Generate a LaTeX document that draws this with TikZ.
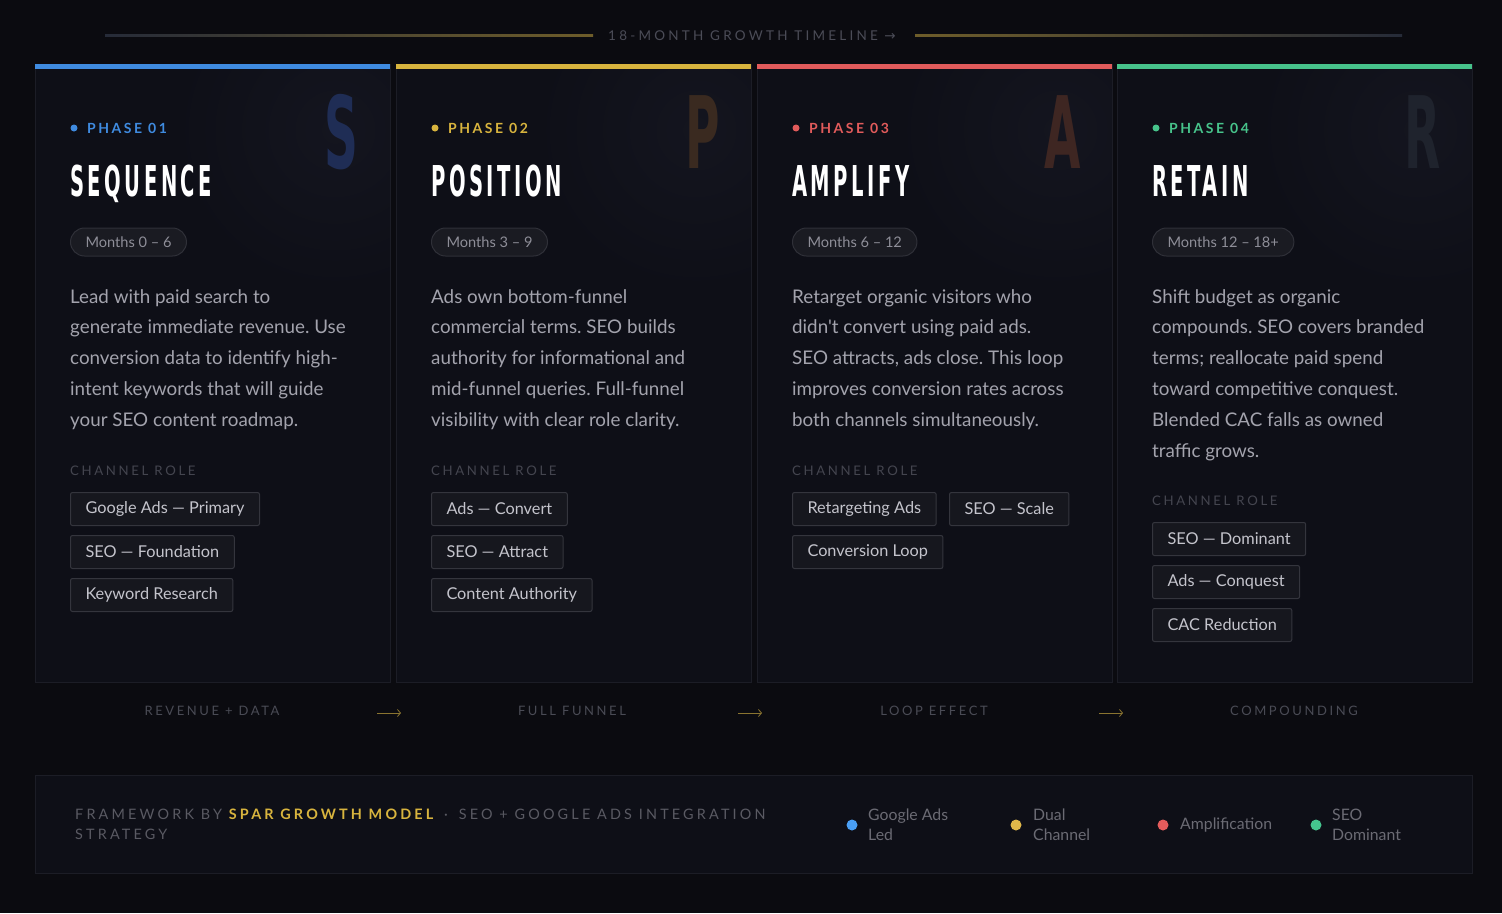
\documentclass[tikz,border=0pt]{standalone}
\usepackage{fontspec}
\usepackage{graphicx}
\usetikzlibrary{arrows.meta}
\setmainfont{Lato}
\newfontfamily\bodyfont{Lato}
\newfontfamily\trackfont[LetterSpace=20]{Lato}
\newfontfamily\foottrack[LetterSpace=22]{Lato}
\newfontfamily\widetrack[LetterSpace=24]{Lato}
\newfontfamily\phasefont[LetterSpace=18]{Lato}
\newfontfamily\titlefont[LetterSpace=18]{DejaVu Sans}
\newfontfamily\bigfont{DejaVu Sans}
\newfontfamily\symfont{DejaVu Sans}
\definecolor{pagebg}{HTML}{0B0B10}
\definecolor{cardbg}{HTML}{0E0F17}
\definecolor{cardline}{HTML}{1C1D26}
\definecolor{glow}{HTML}{14151F}
\definecolor{pillbg}{HTML}{1A1B22}
\definecolor{pillline}{HTML}{2F3038}
\definecolor{pilltext}{HTML}{8E8E98}
\definecolor{desctext}{HTML}{A3A3AD}
\definecolor{rolelabel}{HTML}{44454F}
\definecolor{tagbg}{HTML}{16171E}
\definecolor{tagline}{HTML}{34353D}
\definecolor{tagtext}{HTML}{C4C4CC}
\definecolor{bottomlabel}{HTML}{4A4B55}
\definecolor{foottext}{HTML}{5A5A63}
\definecolor{legtext}{HTML}{6B6B74}
\definecolor{pblue}{HTML}{3F8BE0}
\definecolor{pgold}{HTML}{D8B43E}
\definecolor{pred}{HTML}{E15B5B}
\definecolor{pgreen}{HTML}{47C38B}
\definecolor{lblue}{HTML}{4A9FF5}
\definecolor{lgold}{HTML}{E0B84A}
\definecolor{lred}{HTML}{E45C5C}
\definecolor{lgreen}{HTML}{45C48E}
\definecolor{bigS}{HTML}{1F2D55}
\definecolor{bigP}{HTML}{3A2A20}
\definecolor{bigA}{HTML}{3E2622}
\definecolor{bigR}{HTML}{1F232D}
\definecolor{tlgrey}{HTML}{262B38}
\definecolor{tlgold}{HTML}{6E5D2A}
\definecolor{arrowgold}{HTML}{8A7430}
\definecolor{timetext}{HTML}{4B4C57}
\begin{document}
\frenchspacing
\begin{tikzpicture}[x=1pt,y=-1pt,
  cardbox/.style={draw=cardline, fill=cardbg, line width=1pt},
  phasedot/.style={circle, inner sep=0, minimum size=7pt},
  phaselabel/.style={anchor=west, inner sep=0, font=\phasefont\bfseries\fontsize{14}{16}\selectfont},
  titlelabel/.style={anchor=base west, inner sep=0, text=white},
  bigletter/.style={anchor=base east, inner sep=0},
  pill/.style={draw=pillline, fill=pillbg, line width=1pt, rounded corners=14pt, minimum height=28pt, inner xsep=15pt, inner ysep=0, anchor=west, text=pilltext, font=\bodyfont\fontsize{14.6}{16}\selectfont},
  desc/.style={anchor=north west, align=left, inner sep=0, text=desctext, font=\bodyfont\fontsize{18.8}{30.8}\selectfont},
  rolelab/.style={anchor=west, inner sep=0, text=rolelabel, font=\trackfont\fontsize{13.2}{15}\selectfont},
  tagbox/.style={draw=tagline, fill=tagbg, line width=1pt, rounded corners=2pt, minimum height=33pt, inner xsep=15pt, inner ysep=0, anchor=north west, text=tagtext, font=\bodyfont\fontsize{16.3}{18}\selectfont},
  flowlab/.style={anchor=center, inner sep=0, text=bottomlabel, font=\trackfont\fontsize{13}{15}\selectfont},
  flowarrow/.style={draw=arrowgold, line width=0.8pt, -{Straight Barb[length=3pt,width=7pt]}},
  legdot/.style={circle, inner sep=0, minimum size=11pt},
  legtxt/.style={anchor=west, align=left, inner sep=0, text=legtext, font=\bodyfont\fontsize{15.8}{20}\selectfont}
]
\useasboundingbox (0,0) rectangle (1502,913);
\fill[pagebg] (0,0) rectangle (1502,913);

% timeline header
\shade[left color=tlgrey, right color=tlgold] (105,34) rectangle (593,36);
\shade[left color=tlgold, right color=tlgrey] (915,34) rectangle (1402,36);
\node[inner sep=0, text=timetext, font=\widetrack\fontsize{13.5}{15}\selectfont] (timeline) at (752,36) {18-MONTH GROWTH TIMELINE {\symfont →}};

% ---------- cards ----------
\foreach \x/\c in {35/pblue,396/pgold,757/pred,1117/pgreen}{
  \fill[cardbg] (\x,64) rectangle (\x+355,682);
  \begin{scope}
    \clip (\x,64) rectangle (\x+355,682);
    \shade[inner color=glow, outer color=cardbg] (\x+300,130) circle (160);
  \end{scope}
  \draw[cardline, line width=1pt] (\x,64) rectangle (\x+355,682);
  \fill[\c] (\x,64) rectangle (\x+355,68.5);
}

% Card 1
\node[bigletter, text=bigS] (big1) at (359,168) {\scalebox{0.47}[1]{\bigfont\bfseries\fontsize{100}{100}\selectfont S}};
\node[phasedot, fill=pblue] (dot1) at (74,128) {};
\node[phaselabel, text=pblue] (ph1) at (87,128) {PHASE 01};
\node[titlelabel] (title1) at (70,196) {\scalebox{0.46}[1]{\titlefont\bfseries\fontsize{42.5}{44}\selectfont SEQUENCE}};
\node[pill] (pill1) at (70,242) {Months 0 – 6};
\node[desc] (desc1) at (70,289) {Lead with paid search to\\generate immediate revenue. Use\\conversion data to identify high-\\intent keywords that will guide\\your SEO content roadmap.};
\node[rolelab] (role1) at (70,471) {CHANNEL ROLE};
\node[tagbox] (t11) at (70,492) {Google Ads — Primary};
\node[tagbox] (t12) at (70,535) {SEO — Foundation};
\node[tagbox] (t13) at (70,578) {Keyword Research};

% Card 2
\node[bigletter, text=bigP] (big2) at (720,168) {\scalebox{0.47}[1]{\bigfont\bfseries\fontsize{100}{100}\selectfont P}};
\node[phasedot, fill=pgold] (dot2) at (435,128) {};
\node[phaselabel, text=pgold] (ph2) at (448,128) {PHASE 02};
\node[titlelabel] (title2) at (431,196) {\scalebox{0.46}[1]{\titlefont\bfseries\fontsize{42.5}{44}\selectfont POSITION}};
\node[pill] (pill2) at (431,242) {Months 3 – 9};
\node[desc] (desc2) at (431,289) {Ads own bottom-funnel\\commercial terms. SEO builds\\authority for informational and\\mid-funnel queries. Full-funnel\\visibility with clear role clarity.};
\node[rolelab] (role2) at (431,471) {CHANNEL ROLE};
\node[tagbox] (t21) at (431,492) {Ads — Convert};
\node[tagbox] (t22) at (431,535) {SEO — Attract};
\node[tagbox] (t23) at (431,578) {Content Authority};

% Card 3
\node[bigletter, text=bigA] (big3) at (1081,168) {\scalebox{0.47}[1]{\bigfont\bfseries\fontsize{100}{100}\selectfont A}};
\node[phasedot, fill=pred] (dot3) at (796,128) {};
\node[phaselabel, text=pred] (ph3) at (809,128) {PHASE 03};
\node[titlelabel] (title3) at (792,196) {\scalebox{0.46}[1]{\titlefont\bfseries\fontsize{42.5}{44}\selectfont AMPLIFY}};
\node[pill] (pill3) at (792,242) {Months 6 – 12};
\node[desc] (desc3) at (792,289) {Retarget organic visitors who\\didn't convert using paid ads.\\SEO attracts, ads close. This loop\\improves conversion rates across\\both channels simultaneously.};
\node[rolelab] (role3) at (792,471) {CHANNEL ROLE};
\node[tagbox] (t31) at (792,492) {Retargeting Ads};
\node[tagbox] (t32) at (949,492) {SEO — Scale};
\node[tagbox] (t33) at (792,535) {Conversion Loop};

% Card 4
\node[bigletter, text=bigR] (big4) at (1441,168) {\scalebox{0.47}[1]{\bigfont\bfseries\fontsize{100}{100}\selectfont R}};
\node[phasedot, fill=pgreen] (dot4) at (1156,128) {};
\node[phaselabel, text=pgreen] (ph4) at (1169,128) {PHASE 04};
\node[titlelabel] (title4) at (1152,196) {\scalebox{0.46}[1]{\titlefont\bfseries\fontsize{42.5}{44}\selectfont RETAIN}};
\node[pill] (pill4) at (1152,242) {Months 12 – 18+};
\node[desc] (desc4) at (1152,289) {Shift budget as organic\\compounds. SEO covers branded\\terms; reallocate paid spend\\toward competitive conquest.\\Blended CAC falls as owned\\traffic grows.};
\node[rolelab] (role4) at (1152,501) {CHANNEL ROLE};
\node[tagbox] (t41) at (1152,522) {SEO — Dominant};
\node[tagbox] (t42) at (1152,565) {Ads — Conquest};
\node[tagbox] (t43) at (1152,608) {CAC Reduction};

% flow labels and arrows
\node[flowlab] (f1) at (212,711) {REVENUE + DATA};
\node[flowlab] (f2) at (572,711) {FULL FUNNEL};
\node[flowlab] (f3) at (934,711) {LOOP EFFECT};
\node[flowlab] (f4) at (1294,711) {COMPOUNDING};
\coordinate (a1s) at (377,713); \coordinate (a1e) at (401,713);
\coordinate (a2s) at (738,713); \coordinate (a2e) at (762,713);
\coordinate (a3s) at (1099,713); \coordinate (a3e) at (1123,713);
\draw[flowarrow] (a1s) -- (a1e);
\draw[flowarrow] (a2s) -- (a2e);
\draw[flowarrow] (a3s) -- (a3e);

% footer
\draw[cardbox] (35,775) rectangle (1472,873);
\node[anchor=north west, align=left, inner sep=0, text=foottext, font=\foottrack\fontsize{14.4}{20}\selectfont] (foot) at (75,809)
  {FRAMEWORK BY {\color{pgold}\bfseries SPAR GROWTH MODEL}\hspace{4pt} · \hspace{4pt}SEO + GOOGLE ADS INTEGRATION\\STRATEGY};

\node[legdot, fill=lblue] (ld1) at (852,825) {};
\node[legtxt] (lt1) at (868,825) {Google Ads\\Led};
\node[legdot, fill=lgold] (ld2) at (1016,825) {};
\node[legtxt] (lt2) at (1033,825) {Dual\\Channel};
\node[legdot, fill=lred] (ld3) at (1163,825) {};
\node[legtxt] (lt3) at (1180,825) {Amplification};
\node[legdot, fill=lgreen] (ld4) at (1316,825) {};
\node[legtxt] (lt4) at (1332,825) {SEO\\Dominant};
\end{tikzpicture}
\end{document}
